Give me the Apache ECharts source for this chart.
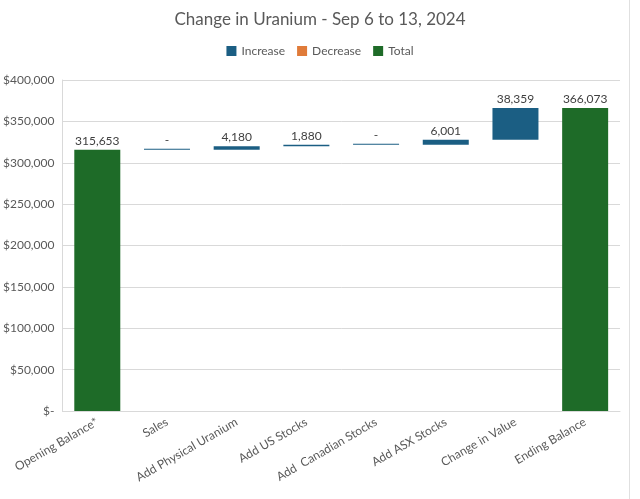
<!DOCTYPE html>
<html>
<head>
<meta charset="utf-8">
<script src="https://cdn.jsdelivr.net/npm/echarts@6/dist/echarts.min.js"></script>
<style>
html,body{margin:0;padding:0;background:#fff;}
#chart{width:640px;height:499px;}
</style>
</head>
<body>
<div id="chart"></div>
<script>
var categories = ['Opening Balance*', 'Sales', 'Add Physical Uranium', 'Add US Stocks', 'Add  Canadian Stocks', 'Add ASX Stocks', 'Change in Value', 'Ending Balance'];
var kinds = ['total', 'change', 'change', 'change', 'change', 'change', 'change', 'total'];
var amounts = [315653, 0, 4180, 1880, 0, 6001, 38359, 366073];
var yTicks = [0, 50000, 100000, 150000, 200000, 250000, 300000, 350000, 400000];

var baseData = [], incData = [], decData = [], totData = [];
var running = 0;
for (var i = 0; i < categories.length; i++) {
  var v = amounts[i];
  if (kinds[i] === 'total') {
    baseData.push('-'); incData.push('-'); decData.push('-'); totData.push(v);
    running = v;
  } else if (v >= 0) {
    baseData.push(running); incData.push(v); decData.push('-'); totData.push('-');
    running += v;
  } else {
    running += v;
    baseData.push(running); incData.push('-'); decData.push(-v); totData.push('-');
  }
}

var fmt = function (n) { return n === 0 ? '-' : n.toLocaleString('en-US'); };
var labelStyle = { show: true, position: 'top', color: '#404040', fontSize: 12, fontFamily: 'Lato', distance: 3,
  formatter: function (p) { return fmt(p.value); } };

var chart = echarts.init(document.getElementById('chart'));
chart.setOption({
  animation: false,
  textStyle: { fontFamily: 'Lato' },
  title: { text: 'Change in Uranium - Sep 6 to 13, 2024', left: 'center', top: 6,
    textStyle: { fontSize: 17, fontWeight: 'normal', color: '#595959', fontFamily: 'Lato' } },
  legend: { data: ['Increase', 'Decrease', 'Total'], top: 40, left: 'center', icon: 'rect', itemWidth: 10, itemHeight: 10, itemGap: 12,
    textStyle: { fontSize: 12, color: '#595959', fontFamily: 'Lato' } },
  grid: { left: 62, right: 20, top: 80, bottom: 88 },
  xAxis: { type: 'category', data: categories,
    axisLine: { lineStyle: { color: '#d9d9d9' } }, axisTick: { show: false },
    axisLabel: { interval: 0, rotate: 30, color: '#595959', fontSize: 12, fontFamily: 'Lato', margin: 10 } },
  yAxis: { type: 'value', min: 0, max: 400000, interval: 50000,
    axisLine: { show: true, lineStyle: { color: '#d9d9d9' } }, axisTick: { show: false },
    splitLine: { lineStyle: { color: '#d9d9d9' } },
    axisLabel: { color: '#595959', fontSize: 12, fontFamily: 'Lato', margin: 8,
      formatter: function (v) { return v === 0 ? '$-' : '$' + v.toLocaleString('en-US'); } } },
  graphic: [{ type: 'line', shape: { x1: 629.5, y1: 0, x2: 629.5, y2: 499 }, style: { stroke: '#e0e0e0', lineWidth: 1 } }],
  series: [
    { name: 'base', type: 'bar', stack: 'w', data: baseData, barWidth: '66%', itemStyle: { color: 'transparent' }, silent: true },
    { name: 'Increase', type: 'bar', stack: 'w', data: incData, barMinHeight: 1, itemStyle: { color: '#1b5e83' }, label: labelStyle },
    { name: 'Decrease', type: 'bar', stack: 'w', data: decData, barMinHeight: 1, itemStyle: { color: '#e07b39' }, label: labelStyle },
    { name: 'Total', type: 'bar', stack: 'w', data: totData, itemStyle: { color: '#1e6b28' }, label: labelStyle }
  ]
});
</script>
</body>
</html>
